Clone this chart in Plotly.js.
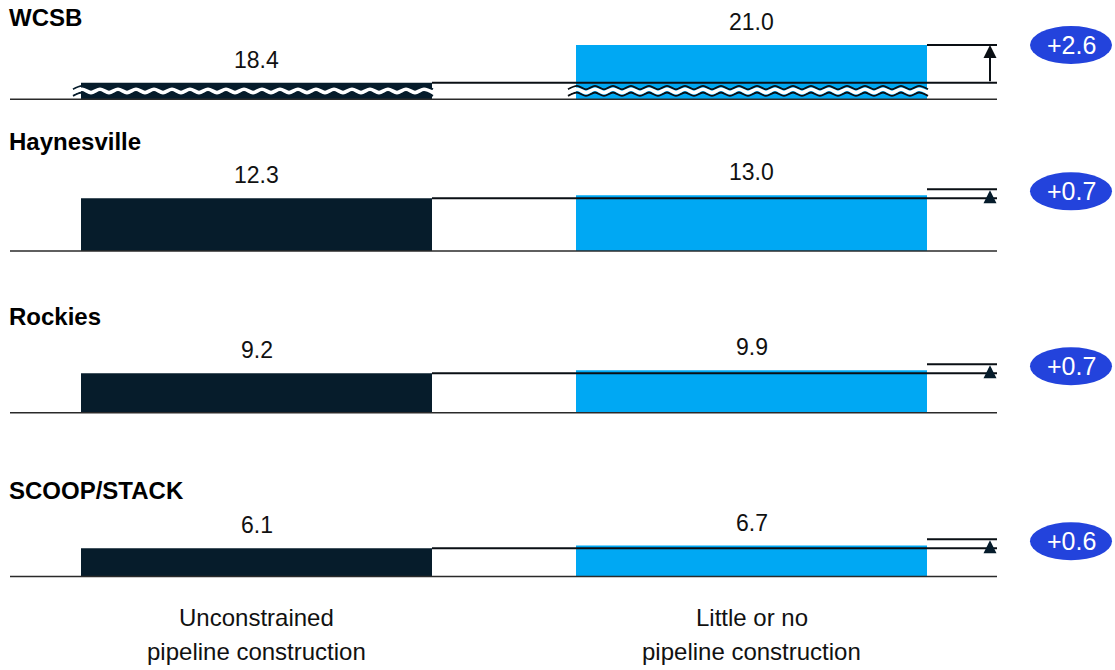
<!DOCTYPE html>
<html><head><meta charset="utf-8">
<script src="https://cdn.plot.ly/plotly-3.0.1.min.js"></script>
<style>html,body{margin:0;padding:0;background:#fff}#chart{width:1115px;height:670px}</style>
</head><body><div id="chart"></div>
<script>
// ---- data ----
const regions = ["WCSB", "Haynesville", "Rockies", "SCOOP/STACK"];
const scenarios = ["Unconstrained<br>pipeline construction", "Little or no<br>pipeline construction"];
const unconstrained = [18.4, 12.3, 9.2, 6.1];
const littleOrNo = [21.0, 13.0, 9.9, 6.7];
const deltaLabels = ["+2.6", "+0.7", "+0.7", "+0.6"];

// ---- styling / layout constants ----
const W = 1115, H = 670;
const C_DARK = "#061c2b", C_BLUE = "#00a8f3", C_BADGE = "#2343dc", C_LINE = "#0a0f14";
const FONT = "Liberation Sans, Arial, sans-serif";
const PX_PER_X = 495;                     // pixels per category step
const XR = [-246.5 / PX_PER_X, 1 + 245.5 / PX_PER_X];
const BAR_W = 351 / PX_PER_X;
const ARROW_X = 1 + 238.5 / PX_PER_X;     // delta marker position
const panels = [
  {base: 99.3, top: 2, scale: 14.5, broken: true, stub: 16.6, titleY: 18},
  {base: 251, top: 150, scale: 4.28, titleY: 142},
  {base: 412.7, top: 312, scale: 4.29, titleY: 316},
  {base: 576.5, top: 486, scale: 4.62, titleY: 490}
];

const traces = [], shapes = [], annotations = [];
const layout = {
  width: W, height: H, margin: {l: 10, r: W - 997, t: 0, b: 0},
  paper_bgcolor: "#fff", plot_bgcolor: "rgba(0,0,0,0)",
  showlegend: false, barmode: "overlay", hovermode: false,
  font: {family: FONT, color: "#111"},
  xaxis: {range: XR, visible: false, fixedrange: true, anchor: "y4"}
};

regions.forEach((name, i) => {
  const p = panels[i];
  const yid = i === 0 ? "y" : "y" + (i + 1);
  const yk = i === 0 ? "yaxis" : "yaxis" + (i + 1);
  const dark = unconstrained[i], blue = littleOrNo[i];
  const ymin = p.broken ? dark - p.stub / p.scale : 0;
  const ymax = ymin + (p.base - p.top) / p.scale;
  layout[yk] = {domain: [1 - p.base / H, 1 - p.top / H], range: [ymin, ymax],
                visible: false, fixedrange: true, anchor: "x"};

  traces.push({type: "bar", x: [0, 1], y: [dark, blue], width: BAR_W,
    marker: {color: [C_DARK, C_BLUE], line: {width: 0}}, xaxis: "x", yaxis: yid,
    hoverinfo: "skip"});

  // broken-axis wavy marks
  if (p.broken) {
    const c = ymin + 8.4 / p.scale;
    [[0, C_DARK], [1, C_LINE]].forEach(([k, oc]) => {
      const x0 = k - BAR_W / 2 - 8 / PX_PER_X, x1 = k + BAR_W / 2 + 8 / PX_PER_X;
      const step = 9 / PX_PER_X;
      const xs = [];
      for (let x = x0; x <= x1 + 1e-9; x += step) xs.push(x);
      const wave = (off) => xs.map((x, j) => c + (off + (j % 2 ? 1.7 : -1.7)) / p.scale);
      [[3.3, oc, 1.8], [-3.3, oc, 1.8], [0, "#ffffff", 3.6]].forEach(([off, col, w]) => {
        traces.push({type: "scatter", mode: "lines", x: xs, y: wave(off), xaxis: "x", yaxis: yid,
          line: {color: col, width: w, shape: "spline", smoothing: 1}, hoverinfo: "skip", cliponaxis: false});
      });
    });
  }

  // baseline
  shapes.push({type: "line", xref: "x", yref: yid + " domain", x0: XR[0], x1: XR[1], y0: 0, y1: 0,
    line: {color: "#2a2a2a", width: 1.5}});
  // reference line at unconstrained value
  shapes.push({type: "line", xref: "x", yref: yid, x0: BAR_W / 2, x1: XR[1], y0: dark, y1: dark,
    line: {color: C_LINE, width: 2}});
  // top line of delta marker
  if (p.broken) {
    shapes.push({type: "line", xref: "x", yref: yid, x0: 1 + BAR_W / 2, x1: XR[1], y0: blue, y1: blue,
      line: {color: C_LINE, width: 2}});
    annotations.push({xref: "x", yref: yid, x: ARROW_X, y: blue, axref: "x", ayref: yid, ax: ARROW_X, ay: dark,
      text: "", showarrow: true, arrowhead: 2, arrowsize: 1.3, arrowwidth: 2, arrowcolor: C_LINE, standoff: 0});
  } else {
    shapes.push({type: "line", xref: "x", yref: yid, ysizemode: "pixel", yanchor: dark,
      x0: 1 + BAR_W / 2, x1: XR[1], y0: 9, y1: 9, line: {color: C_LINE, width: 2}});
    annotations.push({xref: "x", yref: yid, x: ARROW_X, y: dark, yshift: 8, ax: 0, ay: 8,
      text: "", showarrow: true, arrowhead: 2, arrowsize: 1.0, arrowwidth: 2.6, arrowcolor: C_DARK, standoff: 0});
  }
  // badge
  const bAnchor = p.broken ? blue : dark;
  const bShift = p.broken ? 0 : 7;
  shapes.push({type: "circle", xref: "paper", yref: yid, xsizemode: "pixel", ysizemode: "pixel",
    xanchor: (1071 - 10) / 987, yanchor: bAnchor, x0: -41, x1: 41, y0: bShift - 19, y1: bShift + 19,
    fillcolor: C_BADGE, line: {width: 0}});
  annotations.push({xref: "paper", yref: yid, x: (1071 - 10) / 987, y: bAnchor, yshift: bShift,
    xanchor: "center", yanchor: "middle", text: deltaLabels[i], showarrow: false,
    font: {family: FONT, size: 25, color: "#ffffff"}});

  // values
  [dark, blue].forEach((v, k) => {
    annotations.push({xref: "x", yref: yid, x: k, y: v, yshift: 23, xanchor: "center", yanchor: "middle",
      text: v.toFixed(1), showarrow: false, font: {family: FONT, size: 23, color: "#111"}});
  });
  // panel title
  annotations.push({xref: "paper", yref: "paper", x: 0, xshift: -3, y: 1 - p.titleY / H, xanchor: "left", yanchor: "middle",
    text: "<b>" + name + "</b>", showarrow: false, font: {family: FONT, size: 24, color: "#000"}});
});

// category labels
scenarios.forEach((s, k) => {
  s.split("<br>").forEach((line, j) => {
    annotations.push({xref: "x", yref: "paper", x: k, y: 1 - (617 + 34 * j) / H, xanchor: "center", yanchor: "middle",
      text: line, showarrow: false, font: {family: FONT, size: 24, color: "#111"}});
  });
});

layout.shapes = shapes;
layout.annotations = annotations;
Plotly.newPlot("chart", traces, layout, {displayModeBar: false, staticPlot: true});
</script>
</body></html>
